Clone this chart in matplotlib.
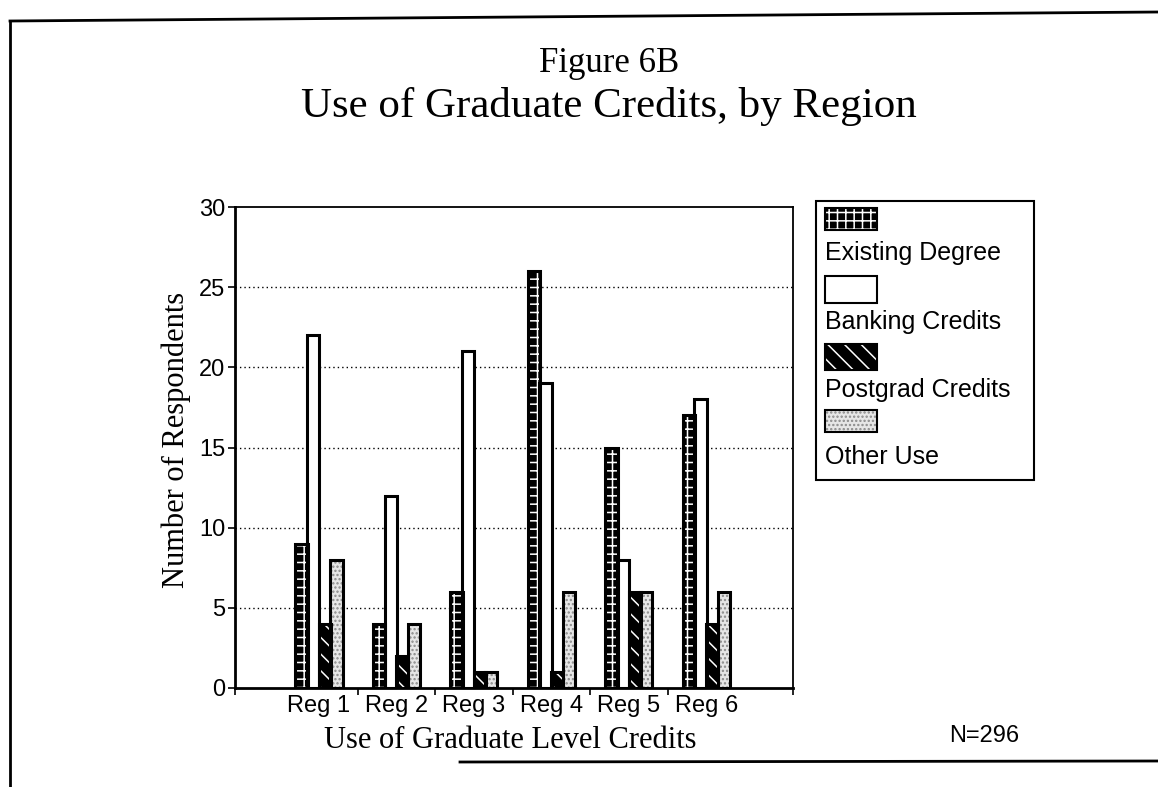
import matplotlib
matplotlib.use('Agg')
import matplotlib.pyplot as plt
from matplotlib.patches import Rectangle
from matplotlib.lines import Line2D
import numpy as np

# ---------------- data ----------------
regions = ['Reg 1', 'Reg 2', 'Reg 3', 'Reg 4', 'Reg 5', 'Reg 6']
series_names = ['Existing Degree', 'Banking Credits', 'Postgrad Credits', 'Other Use']
existing = [9, 4, 6, 26, 15, 17]
banking = [22, 12, 21, 19, 8, 18]
postgrad = [4, 2, 1, 1, 6, 4]
other = [8, 4, 1, 6, 6, 6]
yticks = [0, 5, 10, 15, 20, 25, 30]
title1 = 'Figure 6B'
title2 = 'Use of Graduate Credits, by Region'
xlabel = 'Use of Graduate Level Credits'
ylabel = 'Number of Respondents'
note = 'N=296'

series = [existing, banking, postgrad, other]

# ---------------- styles ----------------
plt.rcParams['hatch.linewidth'] = 1.1
SANS = 'Liberation Sans'
SERIF = 'Liberation Serif'
styles = [
    dict(face='black', hcol='white', hatch='++'),
    dict(face='white', hcol='white', hatch=None),
    dict(face='black', hcol='white', hatch='\\\\'),
    dict(face='#e6e6e6', hcol='#8a8a8a', hatch='....'),
]

W, H = 1158, 787
fig = plt.figure(figsize=(W / 100, H / 100), dpi=100)
fig.patch.set_facecolor('white')


def fx(px):
    return px / W


def fy(py):
    return 1 - py / H


ax = fig.add_axes([fx(235), fy(688), fx(793) - fx(235), fy(207) - fy(688)])

step = 0.15
width = 0.158
xs = np.arange(len(regions))
for k, vals in enumerate(series):
    st = styles[k]
    pos = xs + (k - 1.5) * step
    ax.bar(pos, vals, width=width, color=st['face'], edgecolor=st['hcol'],
           hatch=st['hatch'], linewidth=0, zorder=2)
    ax.bar(pos, vals, width=width, fill=False, edgecolor='black',
           linewidth=2.2, zorder=3)

ax.set_xlim(-1.085, 6.12)
ax.set_ylim(0, 30)

# gridlines
for y in yticks[1:-1]:
    ax.axhline(y, color='black', linestyle=(0, (1, 2.2)), linewidth=1.0, zorder=1)

# y axis
ax.set_yticks(yticks)
ax.set_yticklabels([str(v) for v in yticks], fontfamily=SANS, fontsize=17)
ax.tick_params(axis='y', direction='out', length=5, width=1.2, pad=2)

# x axis: boundary ticks, category labels as minor ticks
xl = ax.get_xlim()
ax.set_xticks([xl[0]] + list(xs[:-1] + 0.5) + [xl[1]])
ax.set_xticklabels([])
ax.set_xticks(xs, minor=True)
ax.set_xticklabels(regions, minor=True, fontfamily=SANS, fontsize=17)
ax.tick_params(axis='x', which='major', direction='out', length=5, width=1.2)
ax.tick_params(axis='x', which='minor', length=0, pad=5)

for s in ['left', 'bottom']:
    ax.spines[s].set_linewidth(2.0)
for s in ['top', 'right']:
    ax.spines[s].set_linewidth(1.3)

# titles and labels
fig.text(fx(609), fy(64), title1, family=SERIF, fontsize=25, ha='center', va='center')
fig.text(fx(609), fy(106), title2, family=SERIF, fontsize=31, ha='center', va='center')
fig.text(fx(176), fy(440), ylabel, family=SERIF, fontsize=22, rotation=90,
         ha='center', va='center')
fig.text(fx(510), fy(741), xlabel, family=SERIF, fontsize=22, ha='center', va='center')
fig.text(fx(984), fy(736), note, family=SANS, fontsize=17, ha='center', va='center')

# legend (custom: swatch above label)
lax = fig.add_axes([fx(815), fy(480), fx(1034) - fx(815), fy(200) - fy(480)])
lax.set_xlim(815, 1034)
lax.set_ylim(480, 200)
lax.axis('off')
lax.add_patch(Rectangle((815.5, 200.5), 218, 279, fill=False, edgecolor='black',
                        linewidth=1.5, clip_on=False))
sw_top = [208, 276, 344, 410]
sw_h = [22, 27, 26, 22]
lab_y = [253, 322, 390, 457]
for k, name in enumerate(series_names):
    st = styles[k]
    lax.add_patch(Rectangle((825, sw_top[k]), 52, sw_h[k], facecolor=st['face'],
                            edgecolor=st['hcol'], hatch=st['hatch'], linewidth=0))
    lax.add_patch(Rectangle((825, sw_top[k]), 52, sw_h[k], fill=False,
                            edgecolor='black', linewidth=1.5))
    lax.text(825, lab_y[k], name, family=SANS, fontsize=18, ha='left', va='center')

# page border lines (scanned frame)
fig.add_artist(Line2D([fx(10), fx(10)], [fy(21), 0], color='black', linewidth=2))
fig.add_artist(Line2D([fx(10), 1], [fy(21), fy(12)], color='black', linewidth=2))
fig.add_artist(Line2D([fx(460), 1], [fy(762), fy(761)], color='black', linewidth=2))

fig.savefig('out.png', dpi=100, facecolor='white')
